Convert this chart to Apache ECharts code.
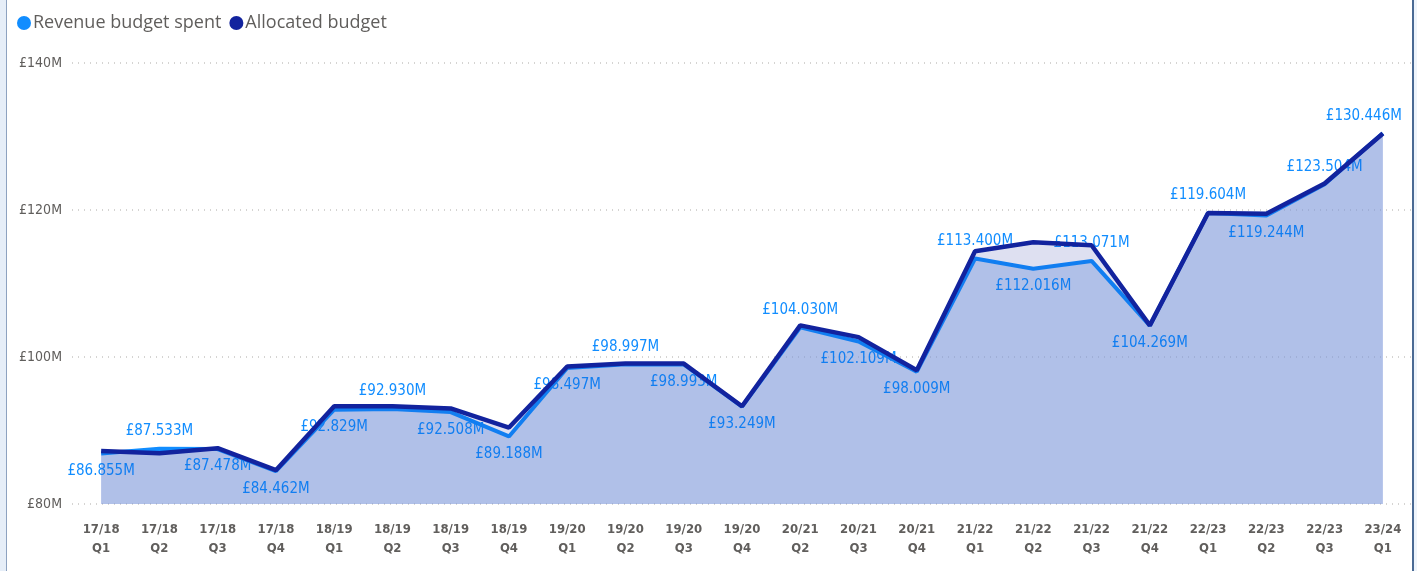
<!DOCTYPE html>
<html>
<head>
<meta charset="utf-8">
<script src="https://cdn.jsdelivr.net/npm/echarts@6/dist/echarts.min.js"></script>
<style>
  html, body { margin: 0; padding: 0; background: #fff; }
  #chart { width: 1417px; height: 571px; }
  #edge { position: absolute; left: 0; top: 0; width: 6px; height: 571px; background: #e6eef8; border-right: 1px solid #8da2c0; }
  #edge2 { position: absolute; left: 1412px; top: 0; width: 5px; height: 571px; background: #eef4fb; border-left: 2px solid #4a6a94; }
</style>
</head>
<body>
<div id="chart"></div>
<div id="edge"></div>
<div id="edge2"></div>
<script>
const quarters = [
  '17/18\nQ1', '17/18\nQ2', '17/18\nQ3', '17/18\nQ4',
  '18/19\nQ1', '18/19\nQ2', '18/19\nQ3', '18/19\nQ4',
  '19/20\nQ1', '19/20\nQ2', '19/20\nQ3', '19/20\nQ4',
  '20/21\nQ2', '20/21\nQ3', '20/21\nQ4',
  '21/22\nQ1', '21/22\nQ2', '21/22\nQ3', '21/22\nQ4',
  '22/23\nQ1', '22/23\nQ2', '22/23\nQ3', '23/24\nQ1'
];

// £M
const spent = [
  86.855, 87.533, 87.478, 84.462,
  92.829, 92.930, 92.508, 89.188,
  98.497, 98.997, 98.993, 93.249,
  104.030, 102.109, 98.009,
  113.400, 112.016, 113.071, 104.269,
  119.604, 119.244, 123.504, 130.446
];

const allocated = [
  87.2, 86.9, 87.6, 84.6,
  93.3, 93.3, 93.0, 90.4,
  98.7, 99.1, 99.1, 93.3,
  104.3, 102.7, 98.2,
  114.4, 115.6, 115.2, 104.3,
  119.6, 119.5, 123.6, 130.4
];

// where each data label sits relative to its point
const labelSide = [
  'bottom', 'top', 'bottom', 'bottom',
  'bottom', 'top', 'bottom', 'bottom',
  'bottom', 'top', 'bottom', 'bottom',
  'top', 'bottom', 'bottom',
  'top', 'bottom', 'top', 'bottom',
  'top', 'bottom', 'top', 'top'
];

const chart = echarts.init(document.getElementById('chart'));

const fmt = v => '£' + v.toFixed(3) + 'M';

const spentData = spent.map((v, i) => {
  const lab = { position: labelSide[i] };
  // last label is pushed back inside the plot
  if (i === spent.length - 1) lab.offset = [-19, 0];
  return { value: v, label: lab };
});

const option = {
  animation: false,
  legend: {
    left: 12,
    top: 9,
    icon: 'circle',
    itemWidth: 14,
    itemHeight: 14,
    itemGap: 8,
    textStyle: { color: '#605e5c', fontSize: 18, fontFamily: 'Open Sans', padding: [0, 0, 0, -3] },
    data: ['Revenue budget spent', 'Allocated budget']
  },
  grid: { left: 72, right: 5, top: 63, bottom: 67 },
  xAxis: {
    type: 'category',
    data: quarters,
    boundaryGap: true,
    axisLine: { show: false },
    axisTick: { show: false },
    axisLabel: {
      color: '#605e5c',
      fontSize: 13,
      fontWeight: 'bold',
      fontFamily: 'DejaVu Sans Condensed',
      lineHeight: 19,
      margin: 16,
      interval: 0
    }
  },
  yAxis: {
    type: 'value',
    min: 80,
    max: 140,
    interval: 20,
    axisLabel: {
      formatter: v => '£' + v + 'M',
      color: '#605e5c',
      fontSize: 14,
      fontFamily: 'DejaVu Sans Condensed',
      margin: 10
    },
    splitLine: { lineStyle: { color: '#c8c6c4', type: [1, 5], width: 1.5 } }
  },
  series: [
    {
      name: 'Revenue budget spent',
      type: 'line',
      data: spentData,
      symbol: 'circle',
      symbolSize: 0.1,
      showSymbol: true,
      color: '#118dff',
      lineStyle: { width: 4, color: '#118dff' },
      areaStyle: { color: 'rgba(159,187,235,0.8)', origin: 'start' },
      label: {
        show: true,
        formatter: p => fmt(p.value),
        color: '#118dff',
        fontSize: 15,
        fontFamily: 'DejaVu Sans Condensed',
        distance: 10
      },
      z: 2
    },
    {
      name: 'Allocated budget',
      type: 'line',
      data: allocated,
      symbol: 'none',
      showSymbol: false,
      color: '#12239e',
      lineStyle: { width: 4.5, color: '#12239e' },
      areaStyle: { color: 'rgba(18,35,158,0.2)', origin: 'start' },
      z: 3
    }
  ]
};

chart.setOption(option);
</script>
</body>
</html>
